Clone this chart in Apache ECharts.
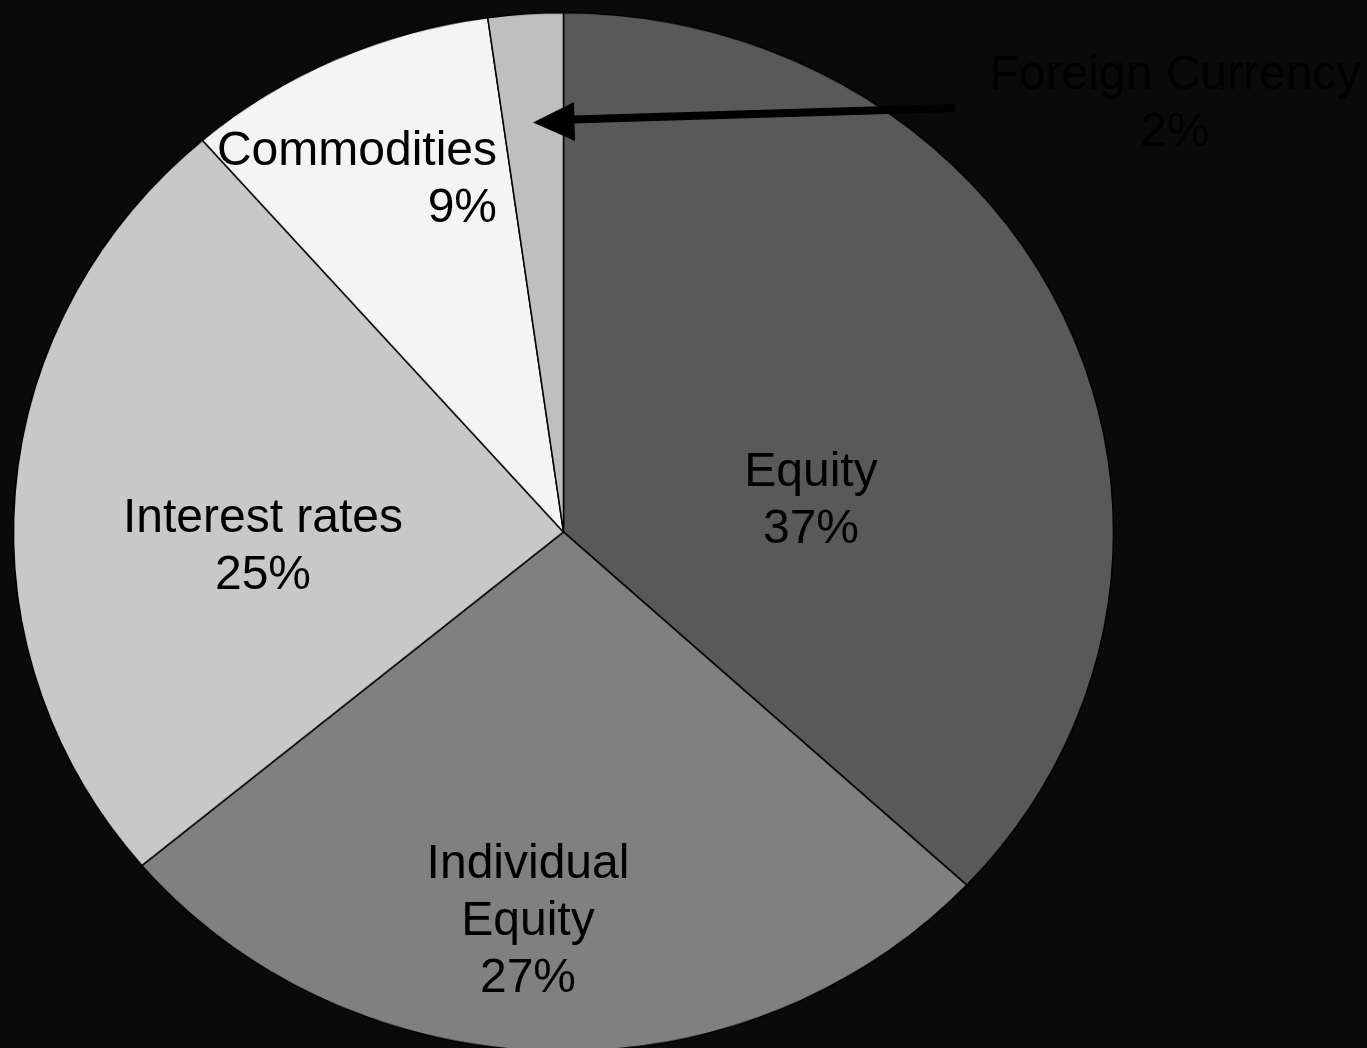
<!DOCTYPE html>
<html>
<head>
<meta charset="utf-8">
<script src="https://cdn.jsdelivr.net/npm/echarts@6/dist/echarts.min.js"></script>
<style>
  html, body { margin: 0; padding: 0; background: #0a0a0a; }
  #wrap { position: relative; width: 1367px; height: 1048px; overflow: hidden; }
  /* the original pie is a slightly flattened ellipse, so the pie layer is squeezed vertically */
  #pie { position: absolute; left: 0; top: 0; width: 1367px; height: 1110px;
         transform: scaleY(0.9442); transform-origin: 0 0; }
  #ann { position: absolute; left: 0; top: 0; width: 1367px; height: 1048px; pointer-events: none; }
</style>
</head>
<body>
<div id="wrap">
  <div id="pie"></div>
  <div id="ann"></div>
</div>
<script>
var categories = ['Equity', 'Individual Equity', 'Interest rates', 'Commodities', 'Foreign Currency'];
var shares = [36.9, 27.0, 24.7, 9.2, 2.2];
var sliceColors = ['#595959', '#808080', '#c8c8c8', '#f4f4f4', '#bfbfbf'];

// where each label sits (centre of the text block, page pixels) and how it is aligned
var labelPos = [[811, 501], [528, 922], [263, 547], [497, 180], [1175, 104]];
var labelAlign = ['center', 'center', 'center', 'right', 'center'];
var labelColor = ['#000', '#000', '#000', '#000', '#000'];

var pieChart = echarts.init(document.getElementById('pie'));
var pieData = [];
for (var i = 0; i < categories.length; i++) {
    pieData.push({
        name: categories[i],
        value: shares[i],
        itemStyle: { color: sliceColors[i] }
    });
}
pieChart.setOption({
    animation: false,
    series: [{
        type: 'pie',
        center: [563.5, 563.4],
        radius: 550,
        startAngle: 90,
        clockwise: true,
        silent: true,
        label: { show: false },
        labelLine: { show: false },
        itemStyle: { borderColor: '#000', borderWidth: 1.5 },
        data: pieData
    }]
});

// labels and the arrow go on an unsqueezed layer on top
var annChart = echarts.init(document.getElementById('ann'));
var els = [];
for (var j = 0; j < categories.length; j++) {
    var txt = categories[j];
    if (j == 1) txt = 'Individual\nEquity';
    els.push({
        type: 'text',
        x: labelPos[j][0],
        y: labelPos[j][1],
        style: {
            text: txt + '\n' + Math.round(shares[j]) + '%',
            fill: labelColor[j],
            font: '48px "Liberation Sans", Arial, sans-serif',
            lineHeight: 57,
            align: labelAlign[j],
            verticalAlign: 'middle'
        }
    });
}
// arrow pointing at the thin Foreign Currency slice
els.push({
    type: 'line',
    shape: { x1: 955, y1: 108, x2: 572, y2: 119.5 },
    style: { stroke: '#000', lineWidth: 8 }
});
els.push({
    type: 'polygon',
    shape: { points: [[533, 122.5], [574, 102], [575, 141]] },
    style: { fill: '#000' }
});
annChart.setOption({
    animation: false,
    graphic: { elements: els }
});
</script>
</body>
</html>
